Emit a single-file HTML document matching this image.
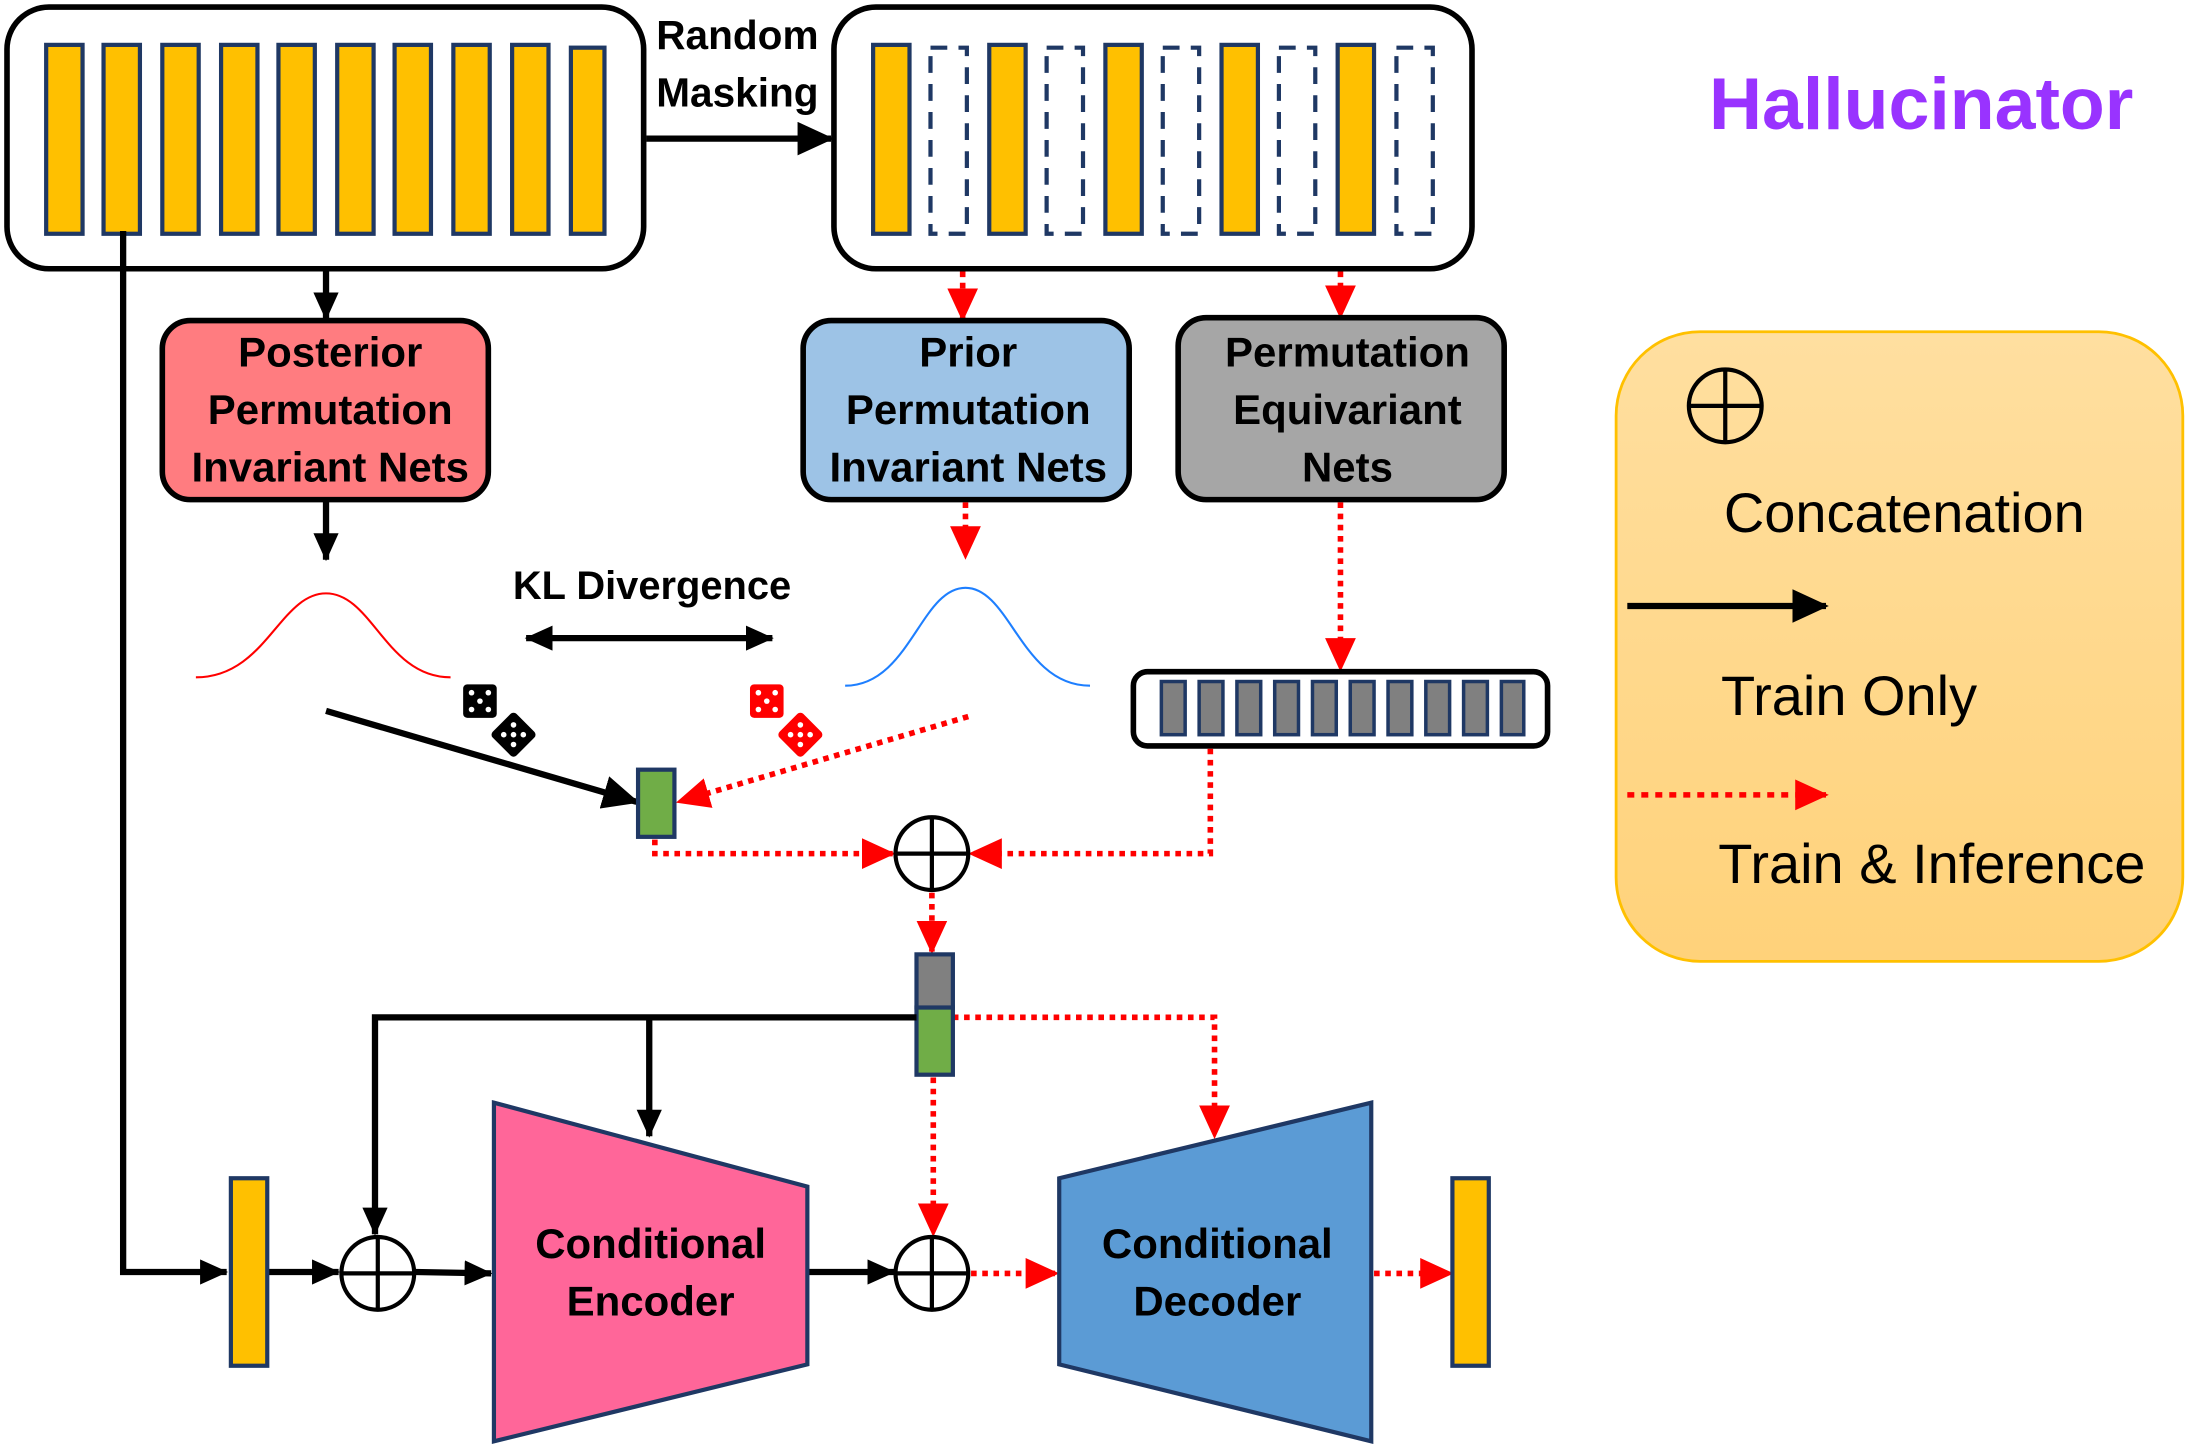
<!DOCTYPE html>
<html><head><meta charset="utf-8"><style>html,body{margin:0;padding:0;background:#fff}svg{display:block}</style></head>
<body>
<svg width="2194" height="1454" viewBox="0 0 1568 1039" xmlns="http://www.w3.org/2000/svg" font-family="Liberation Sans, sans-serif">
<defs>
<marker id="abk" markerWidth="26" markerHeight="24" refX="24" refY="12" orient="auto" markerUnits="userSpaceOnUse"><path d="M0,0 L26,12 L0,24 z" fill="#000"/></marker>
<marker id="abs" markerWidth="20" markerHeight="18" refX="19" refY="9" orient="auto" markerUnits="userSpaceOnUse"><path d="M0,0 L20,9 L0,18 z" fill="#000"/></marker>
<marker id="abst" markerWidth="20" markerHeight="18" refX="1" refY="9" orient="auto" markerUnits="userSpaceOnUse"><path d="M20,0 L0,9 L20,18 z" fill="#000"/></marker>
<marker id="ar" markerWidth="24" markerHeight="22" refX="22" refY="11" orient="auto" markerUnits="userSpaceOnUse"><path d="M0,0 L24,11 L0,22 z" fill="#f00"/></marker>
<linearGradient id="lg" x1="0" y1="0" x2="0" y2="1"><stop offset="0" stop-color="#FFDFA0"/><stop offset="1" stop-color="#FFD27A"/></linearGradient>
</defs>
<g stroke-linejoin="miter">
<rect x="5" y="5" width="455" height="187" rx="30" fill="#fff" stroke="#000" stroke-width="4"/>
<g fill="#FFC000" stroke="#1F3864" stroke-width="3">
<rect x="33" y="32" width="26" height="135"/><rect x="74" y="32" width="26" height="135"/><rect x="116" y="32" width="26" height="135"/><rect x="158" y="32" width="26" height="135"/><rect x="199" y="32" width="26" height="135"/><rect x="241" y="32" width="26" height="135"/><rect x="282" y="32" width="26" height="135"/><rect x="324" y="32" width="26" height="135"/><rect x="366" y="32" width="26" height="135"/><rect x="408" y="34" width="24" height="133"/>
</g>
<text x="527" y="35" font-size="29" font-weight="bold" text-anchor="middle">Random</text>
<text x="527" y="76" font-size="29" font-weight="bold" text-anchor="middle">Masking</text>
<line x1="462" y1="99" x2="594" y2="99" stroke="#000" stroke-width="4.5" marker-end="url(#abk)"/>
<rect x="596" y="5" width="456" height="187" rx="30" fill="#fff" stroke="#000" stroke-width="4"/>
<g fill="#FFC000" stroke="#1F3864" stroke-width="3">
<rect x="624" y="32" width="26" height="135"/><rect x="707" y="32" width="26" height="135"/><rect x="790" y="32" width="26" height="135"/><rect x="873" y="32" width="26" height="135"/><rect x="956" y="32" width="26" height="135"/>
</g>
<g fill="none" stroke="#1F3864" stroke-width="3" stroke-dasharray="12,8">
<rect x="665" y="34" width="26" height="133"/><rect x="748" y="34" width="26" height="133"/><rect x="831" y="34" width="26" height="133"/><rect x="914" y="34" width="26" height="133"/><rect x="998" y="34" width="26" height="133"/>
</g>
<text x="1373" y="92" font-size="52.5" font-weight="bold" fill="#9933FF" text-anchor="middle">Hallucinator</text>

<line x1="233" y1="192" x2="233" y2="228" stroke="#000" stroke-width="4.5" marker-end="url(#abs)"/>
<line x1="688" y1="194" x2="688" y2="228" stroke="#f00" stroke-width="4" stroke-dasharray="4,4" marker-end="url(#ar)"/>
<line x1="958" y1="194" x2="958" y2="226" stroke="#f00" stroke-width="4" stroke-dasharray="4,4" marker-end="url(#ar)"/>
<rect x="116" y="229" width="233" height="128" rx="20" fill="#FF7C80" stroke="#000" stroke-width="4"/>
<rect x="574" y="229" width="233" height="128" rx="20" fill="#9DC3E6" stroke="#000" stroke-width="4"/>
<rect x="842" y="227" width="233" height="130" rx="20" fill="#A6A6A6" stroke="#000" stroke-width="4"/>
<g font-size="30" font-weight="bold" text-anchor="middle">
<text x="236" y="262">Posterior</text><text x="236" y="303">Permutation</text><text x="236" y="344">Invariant Nets</text>
<text x="692" y="262">Prior</text><text x="692" y="303">Permutation</text><text x="692" y="344">Invariant Nets</text>
<text x="963" y="262">Permutation</text><text x="963" y="303">Equivariant</text><text x="963" y="344">Nets</text>
</g>
<line x1="233" y1="357" x2="233" y2="400" stroke="#000" stroke-width="4.5" marker-end="url(#abs)"/>
<line x1="690" y1="359" x2="690" y2="398" stroke="#f00" stroke-width="4" stroke-dasharray="4,4" marker-end="url(#ar)"/>
<path d="M140,484 C190,484 200,424 233,424 C266,424 276,484 322,484" fill="none" stroke="#f00" stroke-width="1.5"/>
<path d="M604,490 C650,490 658,420 690,420 C722,420 730,490 779,490" fill="none" stroke="#1E7FFF" stroke-width="1.5"/>
<text x="466" y="428" font-size="28.5" font-weight="bold" text-anchor="middle">KL Divergence</text>
<line x1="376" y1="456" x2="552" y2="456" stroke="#000" stroke-width="4.5" marker-start="url(#abst)" marker-end="url(#abs)"/>
<g><rect x="331" y="489" width="24" height="24" rx="3" fill="#000"/><g fill="#fff"><circle cx="337" cy="495" r="2"/><circle cx="349" cy="495" r="2"/><circle cx="337" cy="507" r="2"/><circle cx="349" cy="507" r="2"/><circle cx="343" cy="501" r="2"/></g>
<rect x="355" y="513" width="24" height="24" rx="3" fill="#000" transform="rotate(45 367 525)"/><g fill="#fff"><circle cx="360" cy="525" r="2"/><circle cx="374" cy="525" r="2"/><circle cx="367" cy="518" r="2"/><circle cx="367" cy="532" r="2"/><circle cx="367" cy="525" r="2"/></g></g>
<g><rect x="536" y="489" width="24" height="24" rx="3" fill="#f00"/><g fill="#fff"><circle cx="542" cy="495" r="2"/><circle cx="554" cy="495" r="2"/><circle cx="542" cy="507" r="2"/><circle cx="554" cy="507" r="2"/><circle cx="548" cy="501" r="2"/></g>
<rect x="560" y="513" width="24" height="24" rx="3" fill="#f00" transform="rotate(45 572 525)"/><g fill="#fff"><circle cx="565" cy="525" r="2"/><circle cx="579" cy="525" r="2"/><circle cx="572" cy="518" r="2"/><circle cx="572" cy="532" r="2"/><circle cx="572" cy="525" r="2"/></g></g>
<line x1="233" y1="508" x2="455" y2="573" stroke="#000" stroke-width="4.5" marker-end="url(#abk)"/>
<line x1="692" y1="512" x2="485" y2="573" stroke="#f00" stroke-width="4" stroke-dasharray="4,4" marker-end="url(#ar)"/>
<rect x="456" y="550" width="26" height="48" fill="#70AD47" stroke="#1F3864" stroke-width="3"/>
<line x1="958" y1="359" x2="958" y2="478" stroke="#f00" stroke-width="4" stroke-dasharray="4,4" marker-end="url(#ar)"/>
<rect x="810" y="480" width="296" height="53" rx="10" fill="#fff" stroke="#000" stroke-width="4"/>
<g fill="#808080" stroke="#1F3864" stroke-width="2.5">
<rect x="830" y="487" width="17" height="38"/><rect x="857" y="487" width="17" height="38"/><rect x="884" y="487" width="17" height="38"/><rect x="911" y="487" width="17" height="38"/><rect x="938" y="487" width="17" height="38"/><rect x="965" y="487" width="17" height="38"/><rect x="992" y="487" width="17" height="38"/><rect x="1019" y="487" width="17" height="38"/><rect x="1046" y="487" width="17" height="38"/><rect x="1073" y="487" width="16" height="38"/>
</g>
<g fill="none" stroke="#f00" stroke-width="4" stroke-dasharray="4,4">
<path d="M468,600 L468,610 L638,610" marker-end="url(#ar)"/>
<path d="M865,535 L865,610 L694,610" marker-end="url(#ar)"/>
<path d="M666,638 L666,680" marker-end="url(#ar)"/>
<path d="M681,727 L868,727 L868,812" marker-end="url(#ar)"/>
<path d="M667,770 L667,882" marker-end="url(#ar)"/>
<path d="M694,910 L755,910" marker-end="url(#ar)"/>
<path d="M982,910 L1037,910" marker-end="url(#ar)"/>
</g>
<rect x="655" y="682" width="26" height="38" fill="#808080" stroke="#1F3864" stroke-width="3"/>
<rect x="655" y="720" width="26" height="48" fill="#70AD47" stroke="#1F3864" stroke-width="3"/>
<g fill="none" stroke="#000" stroke-width="4.5">
<path d="M655,727 L268,727 L268,882" marker-end="url(#abs)"/>
<path d="M464,727 L464,812" marker-end="url(#abs)"/>
<path d="M88,165 L88,909 L162,909" marker-end="url(#abs)"/>
<path d="M192,909 L242,909" marker-end="url(#abs)"/>
<path d="M297,909 L351,910" marker-end="url(#abs)"/>
<path d="M578,909 L639,909" marker-end="url(#abs)"/>
</g>
<rect x="165" y="842" width="26" height="134" fill="#FFC000" stroke="#1F3864" stroke-width="3"/>
<rect x="1038" y="842" width="26" height="134" fill="#FFC000" stroke="#1F3864" stroke-width="3"/>
<polygon points="353,788 577,848 577,975 353,1030" fill="#FF6699" stroke="#1F3864" stroke-width="3"/>
<polygon points="757,842 980,788 980,1030 757,975" fill="#5B9BD5" stroke="#1F3864" stroke-width="3"/>
<g font-size="30" font-weight="bold" text-anchor="middle">
<text x="465" y="899">Conditional</text><text x="465" y="940">Encoder</text>
<text x="870" y="899">Conditional</text><text x="870" y="940">Decoder</text>
</g>
<g fill="#fff" stroke="#000" stroke-width="3">
<circle cx="666" cy="610" r="26"/><circle cx="270" cy="910" r="26"/><circle cx="666" cy="910" r="26"/>
</g>
<g stroke="#000" stroke-width="3">
<line x1="640" y1="610" x2="692" y2="610"/><line x1="666" y1="584" x2="666" y2="636"/>
<line x1="244" y1="910" x2="296" y2="910"/><line x1="270" y1="884" x2="270" y2="936"/>
<line x1="640" y1="910" x2="692" y2="910"/><line x1="666" y1="884" x2="666" y2="936"/>
</g>
<rect x="1155" y="237" width="405" height="450" rx="60" fill="url(#lg)" stroke="#FFC000" stroke-width="2"/>
<circle cx="1233" cy="290" r="26" fill="none" stroke="#000" stroke-width="3"/>
<line x1="1207" y1="290" x2="1259" y2="290" stroke="#000" stroke-width="3"/><line x1="1233" y1="264" x2="1233" y2="316" stroke="#000" stroke-width="3"/>
<text x="1232" y="380" font-size="40">Concatenation</text>
<line x1="1163" y1="433" x2="1305" y2="433" stroke="#000" stroke-width="4.5" marker-end="url(#abk)"/>
<text x="1230" y="511" font-size="40">Train Only</text>
<line x1="1163" y1="568" x2="1305" y2="568" stroke="#f00" stroke-width="4" stroke-dasharray="5,5" marker-end="url(#ar)"/>
<text x="1228" y="631" font-size="40">Train &amp; Inference</text>
</g>
</svg>
</body></html>
